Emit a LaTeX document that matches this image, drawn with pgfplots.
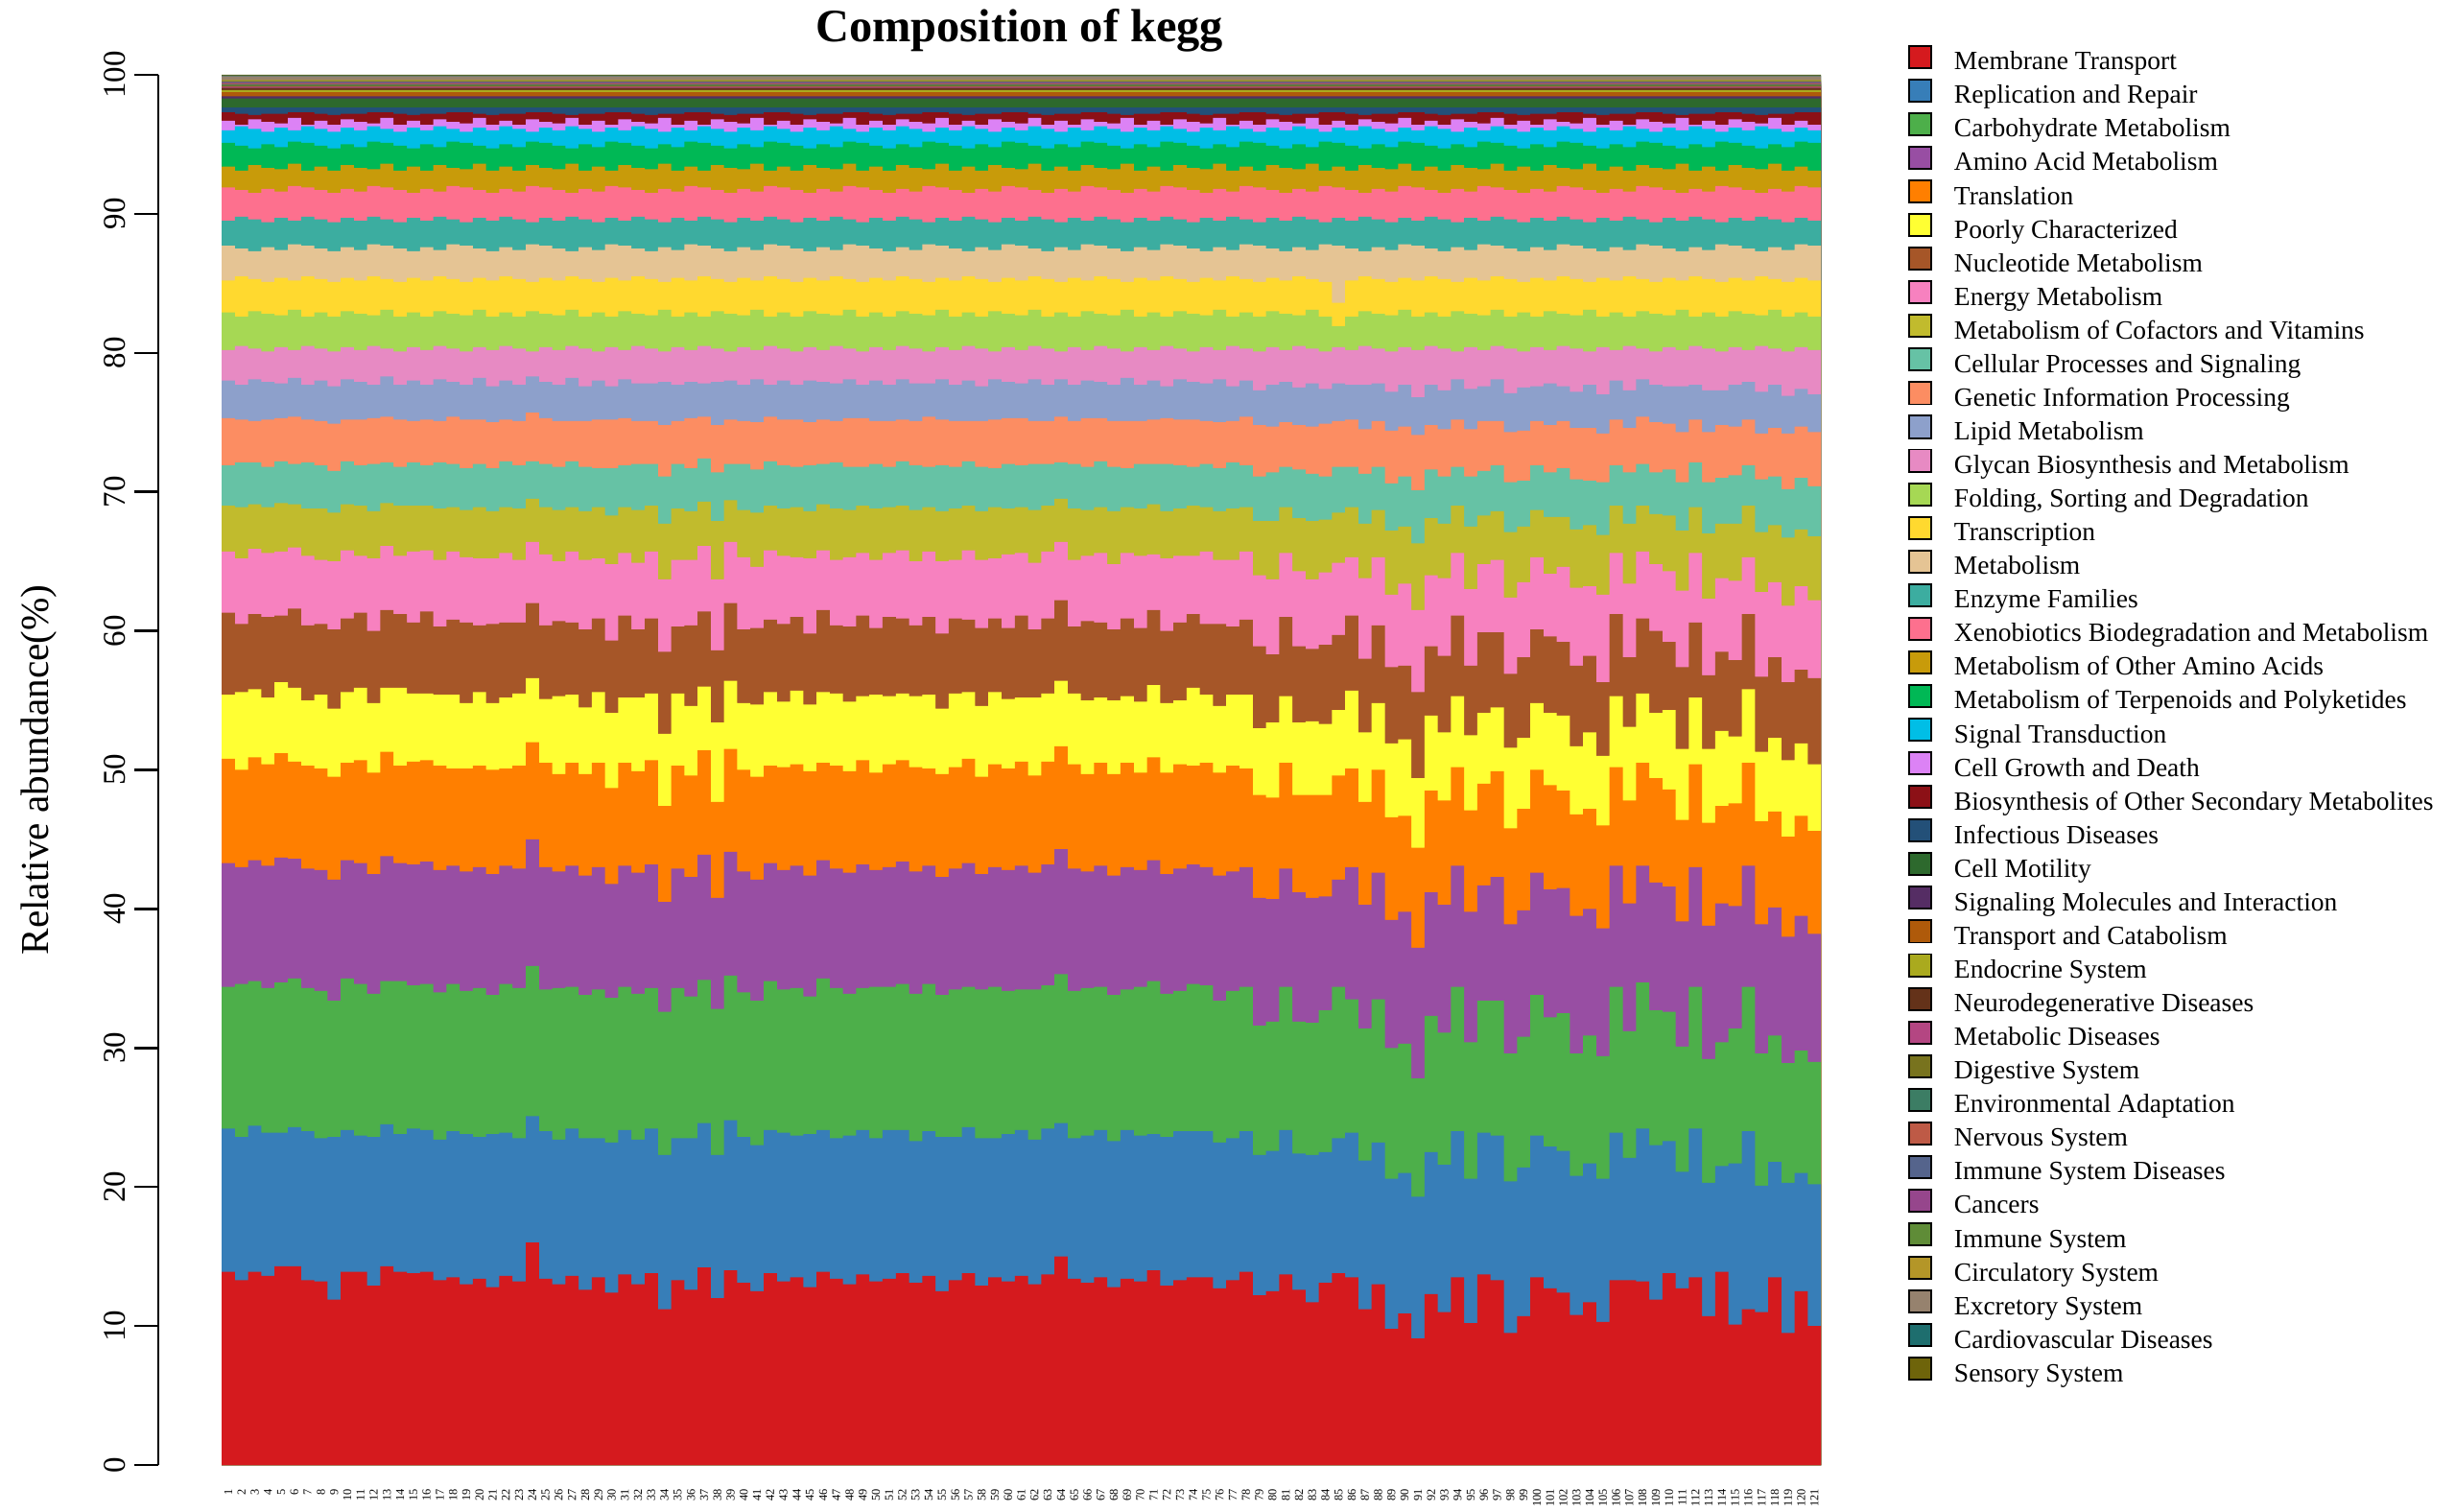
\documentclass[border=0pt]{standalone}
\usepackage{pgfplots}
\usepackage{pgfplotstable}
\pgfplotsset{compat=1.18}
\usepackage{fontspec}
\setmainfont{Liberation Serif}

\definecolor{c1}{RGB}{213,26,30}
\definecolor{c2}{RGB}{55,126,184}
\definecolor{c3}{RGB}{77,175,74}
\definecolor{c4}{RGB}{152,78,163}
\definecolor{c5}{RGB}{255,127,0}
\definecolor{c6}{RGB}{255,255,51}
\definecolor{c7}{RGB}{166,86,40}
\definecolor{c8}{RGB}{247,129,191}
\definecolor{c9}{RGB}{193,187,45}
\definecolor{c10}{RGB}{102,194,165}
\definecolor{c11}{RGB}{252,141,98}
\definecolor{c12}{RGB}{141,160,203}
\definecolor{c13}{RGB}{231,138,195}
\definecolor{c14}{RGB}{166,216,84}
\definecolor{c15}{RGB}{255,217,47}
\definecolor{c16}{RGB}{229,196,148}
\definecolor{c17}{RGB}{60,173,160}
\definecolor{c18}{RGB}{253,112,142}
\definecolor{c19}{RGB}{200,155,10}
\definecolor{c20}{RGB}{0,184,85}
\definecolor{c21}{RGB}{0,190,230}
\definecolor{c22}{RGB}{220,130,245}
\definecolor{c23}{RGB}{140,16,22}
\definecolor{c24}{RGB}{35,80,120}
\definecolor{c25}{RGB}{45,105,45}
\definecolor{c26}{RGB}{85,45,100}
\definecolor{c27}{RGB}{175,90,10}
\definecolor{c28}{RGB}{170,170,30}
\definecolor{c29}{RGB}{100,50,25}
\definecolor{c30}{RGB}{180,70,130}
\definecolor{c31}{RGB}{120,115,30}
\definecolor{c32}{RGB}{60,125,100}
\definecolor{c33}{RGB}{190,90,70}
\definecolor{c34}{RGB}{85,100,140}
\definecolor{c35}{RGB}{150,70,140}
\definecolor{c36}{RGB}{95,140,55}
\definecolor{c37}{RGB}{180,150,40}
\definecolor{c38}{RGB}{150,130,110}
\definecolor{c39}{RGB}{30,110,110}
\definecolor{c40}{RGB}{110,100,10}

% cumulative upper boundaries (%) of categories 1..23 for each of the 121 samples
% (last row repeats sample 121 to close the step outline)
\pgfplotstableread{
b1 b2 b3 b4 b5 b6 b7 b8 b9 b10 b11 b12 b13 b14 b15 b16 b17 b18 b19 b20 b21 b22 b23
13.9 24.2 34.4 43.3 50.8 55.4 61.3 65.7 69.0 71.9 75.3 78.0 80.2 82.9 85.2 87.7 89.5 91.9 93.4 95.1 96.0 96.7 97.3
13.3 23.6 34.6 43.0 50.0 55.6 60.5 65.2 68.9 72.1 75.2 77.7 80.5 82.6 85.5 87.5 89.8 91.7 93.1 94.9 96.3 96.4 97.2
13.9 24.4 34.8 43.5 50.9 55.8 61.2 65.9 69.1 72.1 75.1 78.1 80.3 83.0 85.3 87.3 89.6 91.5 93.5 94.7 96.1 96.8 97.1
13.6 23.9 34.3 43.1 50.4 55.2 61.0 65.6 68.9 71.8 75.2 77.9 80.1 82.8 85.1 87.6 89.4 91.8 93.3 95.0 95.9 96.6 97.2
14.3 23.9 34.7 43.7 51.2 56.3 61.1 65.7 69.2 72.2 75.3 77.8 80.4 82.7 85.4 87.4 89.7 91.6 93.2 94.8 96.2 96.5 97.2
14.3 24.3 35.0 43.6 50.6 55.9 61.6 66.0 69.1 72.0 75.4 78.2 80.2 83.1 85.2 87.8 89.5 92.0 93.6 95.2 96.0 96.9 97.3
13.3 24.0 34.3 42.9 50.3 55.0 60.4 65.4 68.8 72.1 75.2 77.7 80.5 82.6 85.5 87.7 89.8 91.9 93.1 95.1 96.3 96.4 97.3
13.2 23.5 34.1 42.8 50.1 55.4 60.5 65.1 68.8 71.9 75.1 78.0 80.3 82.9 85.3 87.5 89.6 91.7 93.4 94.9 96.1 96.7 97.2
11.9 23.6 33.4 42.1 49.5 54.4 60.1 65.0 68.5 71.5 74.9 77.6 80.1 82.6 85.1 87.3 89.4 91.5 93.1 94.7 95.9 96.4 97.1
13.9 24.1 35.0 43.5 50.5 55.6 60.9 65.8 69.1 72.2 75.2 78.1 80.4 83.0 85.4 87.6 89.7 91.8 93.5 95.0 96.2 96.8 97.2
13.9 23.7 34.6 43.3 50.7 55.9 61.3 65.4 69.0 71.9 75.2 77.9 80.2 82.8 85.2 87.4 89.5 91.6 93.3 94.8 96.0 96.6 97.2
12.9 23.6 33.9 42.5 49.8 54.8 60.0 65.2 68.6 72.0 75.3 77.7 80.5 82.7 85.5 87.8 89.8 92.0 93.2 95.2 96.3 96.5 97.3
14.3 24.5 34.8 43.8 51.3 55.9 61.5 66.1 69.2 72.1 75.4 78.3 80.3 83.1 85.3 87.7 89.6 91.9 93.6 95.1 96.1 96.9 97.3
13.9 23.8 34.8 43.3 50.3 55.9 61.2 65.4 69.0 71.8 75.2 77.7 80.1 82.6 85.1 87.5 89.4 91.7 93.1 94.9 95.9 96.4 97.2
13.8 24.2 34.5 43.2 50.6 55.5 60.6 65.7 69.0 72.1 75.1 78.0 80.4 82.9 85.4 87.3 89.7 91.5 93.4 94.7 96.2 96.7 97.1
13.9 24.1 34.6 43.4 50.7 55.5 61.4 65.8 69.0 71.9 75.2 77.7 80.2 82.6 85.2 87.6 89.5 91.8 93.1 95.0 96.0 96.4 97.2
13.3 23.4 34.0 42.8 50.3 55.4 60.3 65.1 68.8 72.1 75.1 78.1 80.5 83.0 85.5 87.4 89.8 91.6 93.5 94.8 96.3 96.8 97.2
13.5 24.0 34.6 43.1 50.1 55.4 60.8 65.7 68.9 72.0 75.4 77.9 80.3 82.8 85.3 87.8 89.6 92.0 93.3 95.2 96.1 96.6 97.3
13.0 23.8 34.1 42.7 50.1 54.8 60.6 65.3 68.7 71.7 75.2 77.7 80.1 82.7 85.1 87.7 89.4 91.9 93.2 95.1 95.9 96.5 97.3
13.4 23.6 34.3 43.0 50.3 55.6 60.4 65.2 68.9 72.0 75.2 78.2 80.4 83.1 85.4 87.5 89.7 91.7 93.6 94.9 96.2 96.9 97.2
12.8 23.8 33.8 42.5 50.0 54.8 60.5 65.2 68.6 71.7 75.0 77.6 80.2 82.6 85.2 87.3 89.5 91.5 93.1 94.7 96.0 96.4 97.1
13.6 23.9 34.6 43.1 50.1 55.2 60.6 65.6 68.9 72.2 75.2 78.0 80.5 82.9 85.5 87.6 89.8 91.8 93.4 95.0 96.3 96.7 97.2
13.2 23.5 34.3 42.9 50.3 55.5 60.6 65.1 68.8 71.9 75.1 77.7 80.3 82.6 85.3 87.4 89.6 91.6 93.1 94.8 96.1 96.4 97.2
16.0 25.1 35.9 45.0 52.0 56.6 62.0 66.4 69.5 72.2 75.7 78.3 80.1 83.0 85.1 87.8 89.4 92.0 93.5 95.2 95.9 96.8 97.3
13.4 24.0 34.2 43.0 50.5 55.1 60.4 65.5 68.9 72.0 75.3 77.9 80.4 82.8 85.4 87.7 89.7 91.9 93.3 95.1 96.2 96.6 97.3
13.0 23.4 34.3 42.7 49.7 55.3 60.7 65.0 68.7 71.8 75.1 77.7 80.2 82.7 85.2 87.5 89.5 91.7 93.2 94.9 96.0 96.5 97.2
13.6 24.2 34.4 43.1 50.5 55.4 60.6 65.7 68.9 72.2 75.1 78.2 80.5 83.1 85.5 87.3 89.8 91.5 93.6 94.7 96.3 96.9 97.1
12.6 23.5 33.8 42.4 49.7 54.5 60.1 65.1 68.6 71.8 75.1 77.6 80.3 82.6 85.3 87.6 89.6 91.8 93.1 95.0 96.1 96.4 97.2
13.5 23.5 34.2 43.0 50.5 55.6 60.9 65.2 68.9 71.7 75.2 78.0 80.1 82.9 85.1 87.4 89.4 91.6 93.4 94.8 95.9 96.7 97.2
12.4 23.2 33.6 41.8 48.7 54.1 59.3 64.8 68.3 71.7 75.2 77.6 80.4 82.6 85.4 87.8 89.7 92.0 93.1 95.2 96.2 96.4 97.3
13.7 24.1 34.4 43.1 50.5 55.2 61.1 65.6 68.9 71.9 75.3 78.1 80.2 83.0 85.2 87.7 89.5 91.9 93.5 95.1 96.0 96.8 97.3
13.0 23.4 33.9 42.6 49.9 55.2 60.1 64.9 68.7 72.0 75.1 77.8 80.5 82.8 85.5 87.5 89.8 91.7 93.3 94.9 96.3 96.6 97.2
13.8 24.2 34.3 43.2 50.7 55.5 60.9 65.7 69.0 72.0 75.1 77.8 80.3 82.7 85.3 87.3 89.6 91.5 93.2 94.7 96.1 96.5 97.1
11.2 22.3 32.6 40.5 47.4 52.6 58.5 63.7 67.7 71.1 74.8 77.9 80.1 83.1 85.1 87.6 89.4 91.8 93.6 95.0 95.9 96.9 97.2
13.3 23.5 34.3 42.9 50.3 55.5 60.3 65.1 68.8 72.0 75.1 77.7 80.4 82.6 85.4 87.4 89.7 91.6 93.1 94.8 96.2 96.4 97.2
12.6 23.5 33.7 42.3 49.6 54.6 60.4 65.1 68.6 71.7 75.3 77.9 80.2 82.9 85.2 87.8 89.5 92.0 93.4 95.2 96.0 96.7 97.3
14.2 24.6 34.9 43.9 51.4 56.0 61.4 66.1 69.3 72.4 75.4 77.8 80.5 82.6 85.5 87.7 89.8 91.9 93.1 95.1 96.3 96.4 97.3
12.0 22.3 32.8 40.8 47.7 53.4 58.6 63.7 67.9 71.4 74.8 77.9 80.3 83.0 85.3 87.5 89.6 91.7 93.5 94.9 96.1 96.8 97.2
14.0 24.8 35.2 44.1 51.5 56.4 62.0 66.4 69.4 72.0 75.2 78.0 80.1 82.8 85.1 87.3 89.4 91.5 93.3 94.7 95.9 96.6 97.1
13.1 23.6 34.0 42.7 50.0 54.8 60.1 65.3 68.7 72.0 75.1 77.7 80.4 82.7 85.4 87.6 89.7 91.8 93.2 95.0 96.2 96.5 97.2
12.5 23.0 33.4 42.1 49.5 54.7 60.2 64.6 68.5 71.6 75.0 78.1 80.2 83.1 85.2 87.4 89.5 91.6 93.6 94.8 96.0 96.9 97.2
13.8 24.1 34.8 43.3 50.3 55.6 60.8 65.8 69.0 72.2 75.4 77.7 80.5 82.6 85.5 87.8 89.8 92.0 93.1 95.2 96.3 96.4 97.3
13.2 23.9 34.2 42.8 50.2 54.9 60.5 65.4 68.8 71.9 75.2 78.0 80.3 82.9 85.3 87.7 89.6 91.9 93.4 95.1 96.1 96.7 97.3
13.5 23.7 34.3 43.1 50.4 55.7 61.0 65.3 68.9 71.8 75.2 77.7 80.1 82.6 85.1 87.5 89.4 91.7 93.1 94.9 95.9 96.4 97.2
12.8 23.8 33.7 42.4 49.9 54.7 59.8 65.2 68.6 71.9 75.0 78.0 80.4 83.0 85.4 87.3 89.7 91.5 93.5 94.7 96.2 96.8 97.1
13.9 24.1 35.0 43.5 50.5 55.6 61.5 65.8 69.1 72.0 75.2 77.9 80.2 82.8 85.2 87.6 89.5 91.8 93.3 95.0 96.0 96.6 97.2
13.4 23.5 34.3 42.9 50.3 55.5 60.4 65.1 68.8 72.1 75.1 77.8 80.5 82.7 85.5 87.4 89.8 91.6 93.2 94.8 96.3 96.5 97.2
13.0 23.7 33.9 42.6 49.9 54.9 60.3 65.3 68.7 71.8 75.3 78.1 80.3 83.1 85.3 87.8 89.6 92.0 93.6 95.2 96.1 96.9 97.3
13.7 24.1 34.3 43.2 50.7 55.3 61.1 65.6 69.0 71.8 75.3 77.7 80.1 82.6 85.1 87.7 89.4 91.9 93.1 95.1 95.9 96.4 97.3
13.2 23.5 34.4 42.8 49.8 55.4 60.2 65.1 68.8 72.0 75.1 78.0 80.4 82.9 85.4 87.5 89.7 91.7 93.4 94.9 96.2 96.7 97.2
13.4 24.1 34.4 43.0 50.4 55.3 61.0 65.6 68.9 71.8 75.1 77.7 80.2 82.6 85.2 87.3 89.5 91.5 93.1 94.7 96.0 96.4 97.1
13.8 24.1 34.6 43.4 50.7 55.5 60.9 65.8 69.0 72.2 75.2 78.1 80.5 83.0 85.5 87.6 89.8 91.8 93.5 95.0 96.3 96.8 97.2
13.1 23.3 33.9 42.7 50.2 55.3 60.4 65.0 68.7 71.9 75.1 77.8 80.3 82.8 85.3 87.4 89.6 91.6 93.3 94.8 96.1 96.6 97.2
13.6 24.0 34.6 43.1 50.1 55.4 61.0 65.7 68.9 71.8 75.4 77.8 80.1 82.7 85.1 87.8 89.4 92.0 93.2 95.2 95.9 96.5 97.3
12.5 23.6 33.8 42.3 49.7 54.4 59.8 65.0 68.6 71.9 75.2 78.1 80.4 83.1 85.4 87.7 89.7 91.9 93.6 95.1 96.2 96.9 97.3
13.3 23.6 34.2 42.9 50.2 55.5 60.9 65.1 68.8 71.8 75.1 77.7 80.2 82.6 85.2 87.5 89.5 91.7 93.1 94.9 96.0 96.4 97.2
13.8 24.3 34.4 43.3 50.8 55.6 60.8 65.8 69.0 72.2 75.1 78.0 80.5 82.9 85.5 87.3 89.8 91.5 93.4 94.7 96.3 96.7 97.1
12.9 23.5 34.2 42.5 49.5 54.6 60.2 65.1 68.6 71.8 75.1 77.6 80.3 82.6 85.3 87.6 89.6 91.8 93.1 95.0 96.1 96.4 97.2
13.5 23.5 34.4 43.0 50.4 55.6 60.9 65.2 68.9 71.7 75.2 78.1 80.1 83.0 85.1 87.4 89.4 91.6 93.5 94.8 95.9 96.8 97.2
13.2 23.8 34.1 42.8 50.1 55.1 60.2 65.5 68.8 72.0 75.3 77.9 80.4 82.8 85.4 87.8 89.7 92.0 93.3 95.2 96.2 96.6 97.3
13.6 24.1 34.2 43.1 50.6 55.2 61.1 65.6 68.9 71.9 75.3 77.8 80.2 82.7 85.2 87.7 89.5 91.9 93.2 95.1 96.0 96.5 97.3
13.0 23.4 34.2 42.6 49.6 55.2 60.1 64.9 68.7 72.0 75.1 78.1 80.5 83.1 85.5 87.5 89.8 91.7 93.6 94.9 96.3 96.9 97.2
13.7 24.2 34.5 43.2 50.6 55.5 60.9 65.7 69.0 72.0 75.1 77.7 80.3 82.6 85.3 87.3 89.6 91.5 93.1 94.7 96.1 96.4 97.1
15.0 24.6 35.3 44.3 51.7 56.4 62.2 66.4 69.5 72.1 75.4 78.1 80.1 82.9 85.1 87.6 89.4 91.8 93.4 95.0 95.9 96.7 97.2
13.4 23.5 34.1 42.9 50.4 55.5 60.3 65.1 68.8 72.0 75.1 77.7 80.4 82.6 85.4 87.4 89.7 91.6 93.1 94.8 96.2 96.4 97.2
13.1 23.7 34.3 42.7 49.7 55.0 60.7 65.4 68.7 71.8 75.3 78.0 80.2 83.0 85.2 87.8 89.5 92.0 93.5 95.2 96.0 96.8 97.3
13.5 24.1 34.4 43.1 50.5 55.2 60.6 65.6 68.9 72.2 75.3 77.9 80.5 82.8 85.5 87.7 89.8 91.9 93.3 95.1 96.3 96.6 97.3
12.8 23.3 33.8 42.4 49.7 55.0 60.1 64.8 68.6 71.8 75.1 77.7 80.3 82.7 85.3 87.5 89.6 91.7 93.2 94.9 96.1 96.5 97.2
13.4 24.1 34.2 43.0 50.5 55.3 60.9 65.6 68.9 71.7 75.1 78.2 80.1 83.1 85.1 87.3 89.4 91.5 93.6 94.7 95.9 96.9 97.1
13.2 23.7 34.4 42.8 49.8 54.9 60.2 65.4 68.8 72.0 75.1 77.7 80.4 82.6 85.4 87.6 89.7 91.8 93.1 95.0 96.2 96.4 97.2
14.0 23.8 34.8 43.5 50.9 56.1 61.5 65.5 69.1 72.0 75.2 78.0 80.2 82.9 85.2 87.4 89.5 91.6 93.4 94.8 96.0 96.7 97.2
12.9 23.6 33.9 42.5 49.8 54.8 60.0 65.2 68.6 72.0 75.3 77.6 80.5 82.6 85.5 87.8 89.8 92.0 93.1 95.2 96.3 96.4 97.3
13.3 24.0 34.1 42.9 50.4 55.0 60.6 65.4 68.8 71.9 75.2 78.1 80.3 83.0 85.3 87.7 89.6 91.9 93.5 95.1 96.1 96.8 97.3
13.5 24.0 34.6 43.2 50.3 55.9 61.2 65.4 69.0 71.8 75.2 77.9 80.1 82.8 85.1 87.5 89.4 91.7 93.3 94.9 95.9 96.6 97.2
13.5 24.0 34.5 43.0 50.5 55.4 60.5 65.7 68.9 72.0 75.1 77.8 80.4 82.7 85.4 87.3 89.7 91.5 93.2 94.7 96.2 96.5 97.1
12.7 23.2 33.4 42.4 49.8 54.6 60.5 65.1 68.6 71.7 75.0 78.1 80.2 83.1 85.2 87.6 89.5 91.8 93.6 95.0 96.0 96.9 97.2
13.3 23.5 34.1 42.7 50.3 55.4 60.3 65.1 68.8 72.1 75.1 77.6 80.5 82.6 85.5 87.4 89.8 91.6 93.1 94.8 96.3 96.4 97.2
13.9 24.0 34.4 43.0 50.1 55.4 60.8 65.7 68.9 71.9 75.4 78.0 80.3 82.9 85.3 87.8 89.6 92.0 93.4 95.2 96.1 96.7 97.3
12.2 22.3 31.6 40.8 48.2 53.0 58.9 64.0 67.9 71.1 74.8 77.3 80.1 82.6 85.1 87.7 89.4 91.9 93.1 95.1 95.9 96.4 97.3
12.5 22.6 31.9 40.7 48.0 53.4 58.3 63.7 67.9 71.4 74.7 77.7 80.4 83.0 85.4 87.5 89.7 91.7 93.5 94.9 96.2 96.8 97.2
13.7 24.1 34.4 42.9 50.5 55.3 61.0 65.6 68.9 71.8 75.0 77.9 80.2 82.8 85.2 87.3 89.5 91.5 93.3 94.7 96.0 96.6 97.1
12.6 22.4 31.9 41.2 48.2 53.4 58.9 64.3 68.1 71.6 74.8 77.5 80.5 82.7 85.5 87.6 89.8 91.8 93.2 95.0 96.3 96.5 97.2
11.7 22.3 31.8 40.8 48.2 53.5 58.7 63.7 67.9 71.3 74.7 77.8 80.3 83.1 85.3 87.4 89.6 91.6 93.6 94.8 96.1 96.9 97.2
13.1 22.5 32.7 40.9 48.2 53.3 59.0 64.2 68.0 71.1 74.9 77.4 80.1 82.6 85.1 87.8 89.4 92.0 93.1 95.2 95.9 96.4 97.3
13.8 23.5 34.4 42.1 49.6 54.3 59.7 64.9 68.5 71.8 75.1 77.8 80.4 81.9 83.6 87.7 89.7 91.9 93.4 95.1 96.2 96.7 97.3
13.5 23.9 33.5 43.0 50.1 55.7 61.1 65.3 68.9 71.8 75.2 77.7 80.2 82.6 85.2 87.5 89.5 91.7 93.1 94.9 96.0 96.4 97.2
11.2 21.9 31.4 40.3 47.7 52.7 58.0 63.8 67.7 71.3 74.5 77.7 80.5 83.0 85.5 87.3 89.8 91.5 93.5 94.7 96.3 96.8 97.1
13.0 23.2 33.5 42.6 50.0 54.8 60.4 65.3 68.7 71.8 75.1 77.8 80.3 82.8 85.3 87.6 89.6 91.8 93.3 95.0 96.1 96.6 97.2
9.8 20.6 30.0 39.2 46.6 51.9 57.4 62.6 67.2 70.6 74.4 77.2 80.1 82.7 85.1 87.4 89.4 91.6 93.2 94.8 95.9 96.5 97.2
10.9 21.0 30.3 39.8 46.7 52.2 57.5 63.4 67.5 71.1 74.7 77.7 80.4 83.1 85.4 87.8 89.7 92.0 93.6 95.2 96.2 96.9 97.3
9.1 19.3 27.8 37.2 44.4 49.4 55.6 61.5 66.3 70.1 74.1 76.8 80.2 82.6 85.2 87.7 89.5 91.9 93.1 95.1 96.0 96.4 97.3
12.3 22.5 32.3 41.2 48.5 53.9 58.9 64.0 68.1 71.6 74.8 77.7 80.5 82.9 85.5 87.5 89.8 91.7 93.4 94.9 96.3 96.7 97.2
11.0 21.6 31.1 40.3 47.8 52.7 58.2 63.8 67.7 71.1 74.5 77.3 80.3 82.6 85.3 87.3 89.6 91.5 93.1 94.7 96.1 96.4 97.1
13.5 24.0 34.4 43.1 50.2 55.3 61.1 65.6 69.0 71.8 75.2 78.1 80.1 83.0 85.1 87.6 89.4 91.8 93.5 95.0 95.9 96.8 97.2
10.2 20.6 30.4 39.8 47.1 52.5 57.5 63.0 67.5 71.1 74.5 77.4 80.4 82.8 85.4 87.4 89.7 91.6 93.3 94.8 96.2 96.6 97.2
13.7 23.9 33.4 41.7 49.0 54.1 59.9 64.8 68.3 71.5 75.1 77.6 80.2 82.7 85.2 87.8 89.5 92.0 93.2 95.2 96.0 96.5 97.3
13.3 23.7 33.4 42.3 49.9 54.5 59.9 65.1 68.6 71.9 75.1 78.1 80.5 83.1 85.5 87.7 89.8 91.9 93.6 95.1 96.3 96.9 97.3
9.5 20.4 29.6 38.9 45.8 51.6 56.9 62.4 67.1 70.7 74.3 77.1 80.3 82.6 85.3 87.5 89.6 91.7 93.1 94.9 96.1 96.4 97.2
10.7 21.4 30.8 39.9 47.2 52.3 58.1 63.5 67.5 70.8 74.4 77.5 80.1 82.9 85.1 87.3 89.4 91.5 93.4 94.7 95.9 96.7 97.1
13.5 23.7 33.8 42.6 50.0 54.8 60.1 65.3 68.7 71.9 75.1 77.6 80.4 82.6 85.4 87.6 89.7 91.8 93.1 95.0 96.2 96.4 97.2
12.7 22.9 32.2 41.4 48.9 54.1 59.6 64.1 68.2 71.4 74.8 77.8 80.2 83.0 85.2 87.4 89.5 91.6 93.5 94.8 96.0 96.8 97.2
12.4 22.6 32.5 41.5 48.5 53.9 59.2 64.6 68.2 71.7 75.1 77.6 80.5 82.8 85.5 87.8 89.8 92.0 93.3 95.2 96.3 96.6 97.3
10.8 20.8 29.6 39.5 46.8 51.7 57.5 63.1 67.3 70.9 74.6 77.2 80.3 82.7 85.3 87.7 89.6 91.9 93.2 95.1 96.1 96.5 97.3
11.7 21.7 30.9 40.0 47.2 52.7 58.2 63.2 67.6 70.8 74.6 77.7 80.1 83.1 85.1 87.5 89.4 91.7 93.6 94.9 95.9 96.9 97.2
10.3 20.6 29.4 38.6 46.0 51.0 56.3 62.6 66.9 70.7 74.2 77.0 80.4 82.6 85.4 87.3 89.7 91.5 93.1 94.7 96.2 96.4 97.1
13.3 23.9 34.4 43.1 50.2 55.3 61.2 65.6 69.0 71.9 75.2 78.0 80.2 82.9 85.2 87.6 89.5 91.8 93.4 95.0 96.0 96.7 97.2
13.3 22.1 31.2 40.4 47.8 53.1 58.1 63.4 67.7 71.4 74.6 77.3 80.5 82.6 85.5 87.4 89.8 91.6 93.1 94.8 96.3 96.4 97.2
13.2 24.2 34.7 43.1 50.5 55.5 60.9 65.7 69.0 72.0 75.4 78.1 80.3 83.0 85.3 87.8 89.6 92.0 93.5 95.2 96.1 96.8 97.3
11.9 23.0 32.7 41.9 49.4 54.1 60.0 64.8 68.4 71.4 75.0 77.7 80.1 82.8 85.1 87.7 89.4 91.9 93.3 95.1 95.9 96.6 97.3
13.8 23.3 32.6 41.6 48.6 54.3 59.2 64.3 68.3 71.6 74.9 77.6 80.4 82.7 85.4 87.5 89.7 91.7 93.2 94.9 96.2 96.5 97.2
12.7 21.1 30.1 39.1 46.4 51.5 57.4 62.9 67.2 70.7 74.3 77.6 80.2 83.1 85.2 87.3 89.5 91.5 93.6 94.7 96.0 96.9 97.1
13.5 24.2 34.4 43.0 50.4 55.2 60.6 65.6 68.9 72.1 75.2 77.7 80.5 82.6 85.5 87.6 89.8 91.8 93.1 95.0 96.3 96.4 97.2
10.7 20.3 29.2 38.8 46.2 51.5 56.8 62.3 67.0 70.7 74.3 77.3 80.3 82.9 85.3 87.4 89.6 91.6 93.4 94.8 96.1 96.7 97.2
13.9 21.5 30.4 40.4 47.4 52.8 58.5 63.8 67.7 71.0 74.8 77.3 80.1 82.6 85.1 87.8 89.4 92.0 93.1 95.2 95.9 96.4 97.3
10.1 21.7 31.4 40.2 47.6 52.4 57.9 63.6 67.7 71.2 74.7 77.7 80.4 83.0 85.4 87.7 89.7 91.9 93.5 95.1 96.2 96.8 97.3
11.2 24.0 34.4 43.1 50.5 55.8 61.2 65.3 69.0 71.9 75.2 77.9 80.2 82.8 85.2 87.5 89.5 91.7 93.3 94.9 96.0 96.6 97.2
11.0 20.1 29.6 38.9 46.3 51.3 56.7 62.8 67.1 70.9 74.2 77.2 80.5 82.7 85.5 87.3 89.8 91.5 93.2 94.7 96.3 96.5 97.1
13.5 21.8 30.9 40.1 47.0 52.3 58.1 63.5 67.6 71.1 74.6 77.7 80.3 83.1 85.3 87.6 89.6 91.8 93.6 95.0 96.1 96.9 97.2
9.5 20.3 28.9 38.0 45.2 50.7 56.3 61.8 66.7 70.2 74.2 76.9 80.1 82.6 85.1 87.4 89.4 91.6 93.1 94.8 95.9 96.4 97.2
12.5 21.0 29.8 39.5 46.7 51.9 57.2 63.2 67.3 71.0 74.7 77.4 80.4 82.9 85.4 87.8 89.7 92.0 93.4 95.2 96.2 96.7 97.3
10.0 20.2 29.0 38.2 45.6 50.4 56.6 62.2 66.8 70.4 74.3 77.0 80.2 82.6 85.2 87.7 89.5 91.9 93.1 95.1 96.0 96.4 97.3
10.0 20.2 29.0 38.2 45.6 50.4 56.6 62.2 66.8 70.4 74.3 77.0 80.2 82.6 85.2 87.7 89.5 91.9 93.1 95.1 96.0 96.4 97.3
}\kegg

\begin{document}
\begin{tikzpicture}
\useasboundingbox (0,0) rectangle (930.5pt,572.7pt);
\begin{axis}[
  at={(60pt,17.45pt)}, anchor=south west,
  scale only axis, width=630.2pt, height=526.9pt,
  xmin=-4.3, xmax=121.5, ymin=0, ymax=100,
  axis lines*=left,
  x axis line style={draw=none},
  y axis line style={line width=0.9pt, black},
  tick align=outside,
  major tick length=9pt,
  ytick={0,10,...,100},
  ytick style={line width=0.9pt, black},
  xtick={1,...,121},
  xtick style={draw=none},
  /pgf/number format/assume math mode=true,
  yticklabel style={rotate=90, anchor=south, font=\fontsize{12}{14}\selectfont},
  xticklabel style={rotate=90, anchor=east, inner sep=0pt, font=\fontsize{4.5}{5}\selectfont},
  title={Composition of kegg},
  title style={font=\bfseries\fontsize{17.6}{20}\selectfont, at={(axis description cs:0.518,1.0205)}, anchor=center},
  ylabel={Relative abundance(\%)},
  ylabel style={font=\fontsize{15}{18}\selectfont, at={(axis description cs:-0.0716,0.5)}, anchor=center},
  reverse legend,
  legend cell align=left,
  legend style={at={(axis description cs:1.052,1.0219)}, anchor=north west, draw=none, fill=none,
    font=\fontsize{10}{12}\selectfont, row sep=1.3pt, column sep=8.4pt, inner sep=0pt,
    nodes={inner sep=0pt, text height=7pt, text depth=2pt}},
  legend image code/.code={\draw[#1, draw=black, line width=0.7pt] (0pt,-1.8pt) rectangle (8.4pt,6.6pt);},
]
\addplot[const plot, draw=none, fill=c40] coordinates {(0.5,100) (121.5,100)} \closedcycle;
\addlegendentry{Sensory System}
\addplot[const plot, draw=none, fill=c39] coordinates {(0.5,99.95) (121.5,99.95)} \closedcycle;
\addlegendentry{Cardiovascular Diseases}
\addplot[const plot, draw=none, fill=c38] coordinates {(0.5,99.9) (121.5,99.9)} \closedcycle;
\addlegendentry{Excretory System}
\addplot[const plot, draw=none, fill=c37] coordinates {(0.5,99.62) (121.5,99.62)} \closedcycle;
\addlegendentry{Circulatory System}
\addplot[const plot, draw=none, fill=c36] coordinates {(0.5,99.55) (121.5,99.55)} \closedcycle;
\addlegendentry{Immune System}
\addplot[const plot, draw=none, fill=c35] coordinates {(0.5,99.48) (121.5,99.48)} \closedcycle;
\addlegendentry{Cancers}
\addplot[const plot, draw=none, fill=c34] coordinates {(0.5,99.42) (121.5,99.42)} \closedcycle;
\addlegendentry{Immune System Diseases}
\addplot[const plot, draw=none, fill=c33] coordinates {(0.5,99.36) (121.5,99.36)} \closedcycle;
\addlegendentry{Nervous System}
\addplot[const plot, draw=none, fill=c32] coordinates {(0.5,99.3) (121.5,99.3)} \closedcycle;
\addlegendentry{Environmental Adaptation}
\addplot[const plot, draw=none, fill=c31] coordinates {(0.5,99.22) (121.5,99.22)} \closedcycle;
\addlegendentry{Digestive System}
\addplot[const plot, draw=none, fill=c30] coordinates {(0.5,99.15) (121.5,99.15)} \closedcycle;
\addlegendentry{Metabolic Diseases}
\addplot[const plot, draw=none, fill=c29] coordinates {(0.5,99.05) (121.5,99.05)} \closedcycle;
\addlegendentry{Neurodegenerative Diseases}
\addplot[const plot, draw=none, fill=c28] coordinates {(0.5,98.9) (121.5,98.9)} \closedcycle;
\addlegendentry{Endocrine System}
\addplot[const plot, draw=none, fill=c27] coordinates {(0.5,98.75) (121.5,98.75)} \closedcycle;
\addlegendentry{Transport and Catabolism}
\addplot[const plot, draw=none, fill=c26] coordinates {(0.5,98.45) (121.5,98.45)} \closedcycle;
\addlegendentry{Signaling Molecules and Interaction}
\addplot[const plot, draw=none, fill=c25] coordinates {(0.5,98.3) (121.5,98.3)} \closedcycle;
\addlegendentry{Cell Motility}
\addplot[const plot, draw=none, fill=c24] coordinates {(0.5,97.65) (121.5,97.65)} \closedcycle;
\addlegendentry{Infectious Diseases}
\addplot[const plot, draw=none, fill=c23] table[x expr=\coordindex+0.5, y=b23] {\kegg} \closedcycle;
\addlegendentry{Biosynthesis of Other Secondary Metabolites}
\addplot[const plot, draw=none, fill=c22] table[x expr=\coordindex+0.5, y=b22] {\kegg} \closedcycle;
\addlegendentry{Cell Growth and Death}
\addplot[const plot, draw=none, fill=c21] table[x expr=\coordindex+0.5, y=b21] {\kegg} \closedcycle;
\addlegendentry{Signal Transduction}
\addplot[const plot, draw=none, fill=c20] table[x expr=\coordindex+0.5, y=b20] {\kegg} \closedcycle;
\addlegendentry{Metabolism of Terpenoids and Polyketides}
\addplot[const plot, draw=none, fill=c19] table[x expr=\coordindex+0.5, y=b19] {\kegg} \closedcycle;
\addlegendentry{Metabolism of Other Amino Acids}
\addplot[const plot, draw=none, fill=c18] table[x expr=\coordindex+0.5, y=b18] {\kegg} \closedcycle;
\addlegendentry{Xenobiotics Biodegradation and Metabolism}
\addplot[const plot, draw=none, fill=c17] table[x expr=\coordindex+0.5, y=b17] {\kegg} \closedcycle;
\addlegendentry{Enzyme Families}
\addplot[const plot, draw=none, fill=c16] table[x expr=\coordindex+0.5, y=b16] {\kegg} \closedcycle;
\addlegendentry{Metabolism}
\addplot[const plot, draw=none, fill=c15] table[x expr=\coordindex+0.5, y=b15] {\kegg} \closedcycle;
\addlegendentry{Transcription}
\addplot[const plot, draw=none, fill=c14] table[x expr=\coordindex+0.5, y=b14] {\kegg} \closedcycle;
\addlegendentry{Folding, Sorting and Degradation}
\addplot[const plot, draw=none, fill=c13] table[x expr=\coordindex+0.5, y=b13] {\kegg} \closedcycle;
\addlegendentry{Glycan Biosynthesis and Metabolism}
\addplot[const plot, draw=none, fill=c12] table[x expr=\coordindex+0.5, y=b12] {\kegg} \closedcycle;
\addlegendentry{Lipid Metabolism}
\addplot[const plot, draw=none, fill=c11] table[x expr=\coordindex+0.5, y=b11] {\kegg} \closedcycle;
\addlegendentry{Genetic Information Processing}
\addplot[const plot, draw=none, fill=c10] table[x expr=\coordindex+0.5, y=b10] {\kegg} \closedcycle;
\addlegendentry{Cellular Processes and Signaling}
\addplot[const plot, draw=none, fill=c9] table[x expr=\coordindex+0.5, y=b9] {\kegg} \closedcycle;
\addlegendentry{Metabolism of Cofactors and Vitamins}
\addplot[const plot, draw=none, fill=c8] table[x expr=\coordindex+0.5, y=b8] {\kegg} \closedcycle;
\addlegendentry{Energy Metabolism}
\addplot[const plot, draw=none, fill=c7] table[x expr=\coordindex+0.5, y=b7] {\kegg} \closedcycle;
\addlegendentry{Nucleotide Metabolism}
\addplot[const plot, draw=none, fill=c6] table[x expr=\coordindex+0.5, y=b6] {\kegg} \closedcycle;
\addlegendentry{Poorly Characterized}
\addplot[const plot, draw=none, fill=c5] table[x expr=\coordindex+0.5, y=b5] {\kegg} \closedcycle;
\addlegendentry{Translation}
\addplot[const plot, draw=none, fill=c4] table[x expr=\coordindex+0.5, y=b4] {\kegg} \closedcycle;
\addlegendentry{Amino Acid Metabolism}
\addplot[const plot, draw=none, fill=c3] table[x expr=\coordindex+0.5, y=b3] {\kegg} \closedcycle;
\addlegendentry{Carbohydrate Metabolism}
\addplot[const plot, draw=none, fill=c2] table[x expr=\coordindex+0.5, y=b2] {\kegg} \closedcycle;
\addlegendentry{Replication and Repair}
\addplot[const plot, draw=none, fill=c1] table[x expr=\coordindex+0.5, y=b1] {\kegg} \closedcycle;
\addlegendentry{Membrane Transport}
\end{axis}
\end{tikzpicture}
\end{document}
